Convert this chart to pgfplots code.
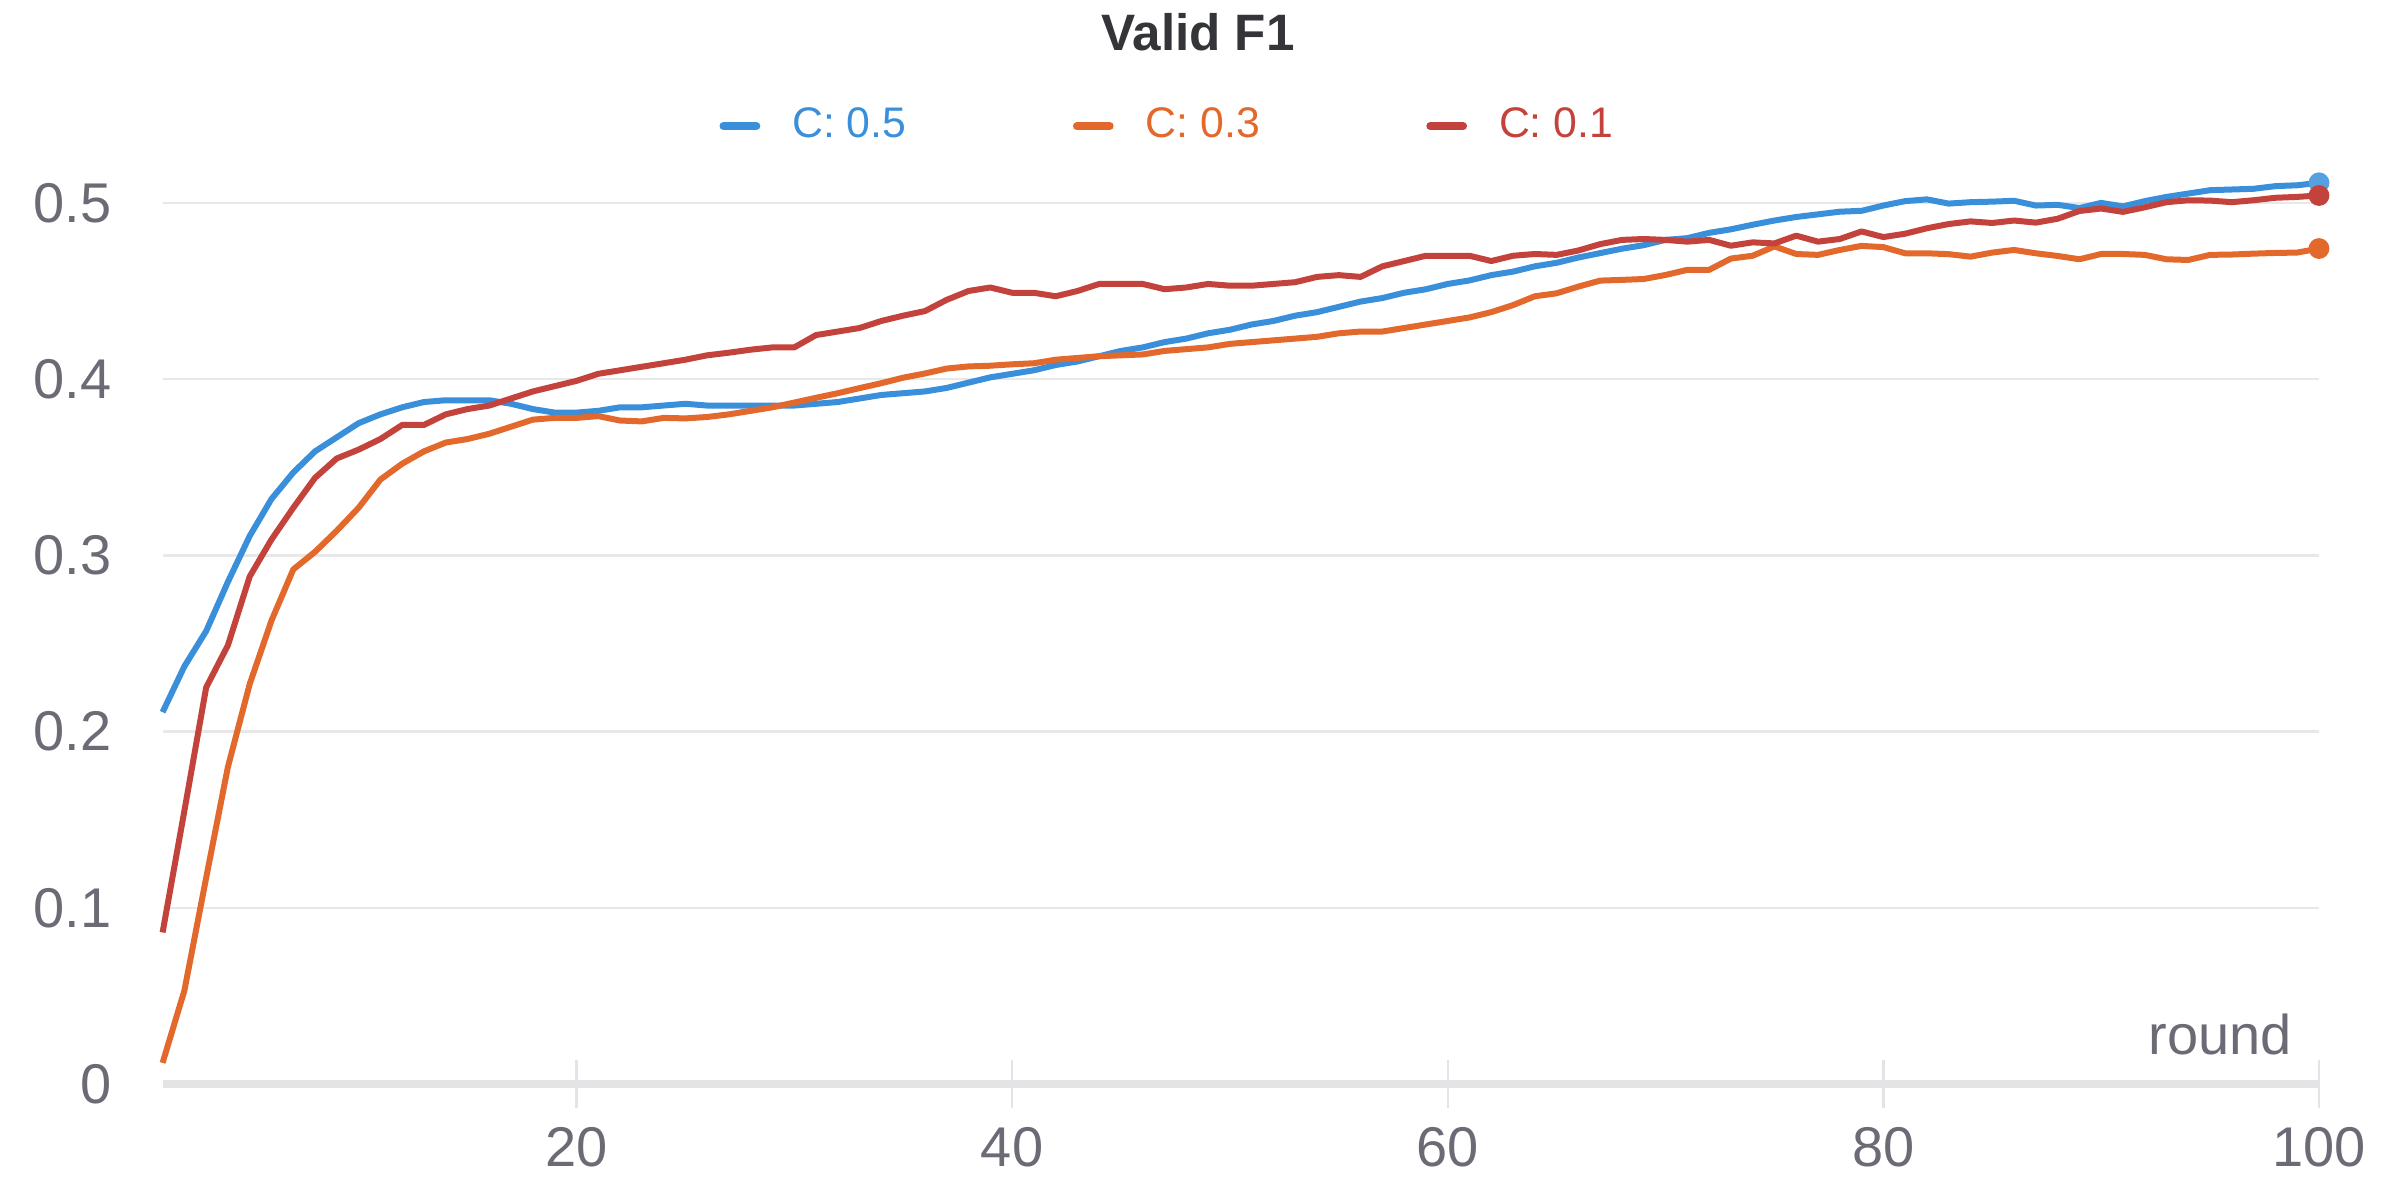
\documentclass[border=0pt]{standalone}
\usepackage{fontspec}
\setmainfont{Liberation Sans}
\usepackage{pgfplots}
\usepackage{pgfplotstable}
\pgfplotsset{compat=1.18}

\definecolor{cblue}{HTML}{3A8FDB}
\definecolor{corange}{HTML}{E2692B}
\definecolor{cred}{HTML}{C3433C}
\definecolor{gridc}{HTML}{E8E8E8}
\definecolor{axisc}{HTML}{E4E4E6}
\definecolor{tickc}{HTML}{6B6B76}
\definecolor{titlec}{HTML}{333538}

% r = round, b = C:0.5, o = C:0.3, c = C:0.1
\pgfplotstableread{
r   b      o      c
1   0.211  0.012  0.086
2   0.237  0.053  0.155
3   0.257  0.117  0.225
4   0.285  0.180  0.249
5   0.311  0.227  0.288
6   0.332  0.263  0.309
7   0.347  0.292  0.327
8   0.359  0.302  0.344
9   0.367  0.314  0.355
10  0.375  0.327  0.360
11  0.380  0.343  0.366
12  0.384  0.352  0.374
13  0.387  0.359  0.374
14  0.388  0.364  0.380
15  0.388  0.366  0.383
16  0.388  0.369  0.385
17  0.386  0.373  0.389
18  0.383  0.377  0.393
19  0.381  0.378  0.396
20  0.381  0.378  0.399
21  0.382  0.379  0.403
22  0.384  0.3765 0.405
23  0.384  0.376  0.407
24  0.385  0.378  0.409
25  0.386  0.3777 0.411
26  0.385  0.3785 0.4135
27  0.385  0.380  0.415
28  0.385  0.382  0.4167
29  0.385  0.384  0.418
30  0.385  0.3867 0.418
31  0.386  0.3894 0.425
32  0.387  0.392  0.427
33  0.389  0.3949 0.429
34  0.391  0.3977 0.433
35  0.392  0.4008 0.436
36  0.393  0.4032 0.4386
37  0.395  0.406  0.445
38  0.398  0.4072 0.450
39  0.401  0.4076 0.452
40  0.403  0.4084 0.449
41  0.405  0.409  0.449
42  0.408  0.411  0.447
43  0.410  0.412  0.450
44  0.413  0.413  0.454
45  0.416  0.4135 0.454
46  0.418  0.414  0.454
47  0.421  0.416  0.451
48  0.423  0.417  0.452
49  0.426  0.418  0.454
50  0.428  0.420  0.453
51  0.431  0.421  0.453
52  0.433  0.422  0.454
53  0.436  0.423  0.455
54  0.438  0.424  0.458
55  0.441  0.426  0.459
56  0.444  0.427  0.458
57  0.446  0.427  0.464
58  0.449  0.429  0.467
59  0.451  0.431  0.470
60  0.454  0.433  0.470
61  0.456  0.435  0.470
62  0.459  0.438  0.467
63  0.461  0.442  0.470
64  0.464  0.447  0.471
65  0.466  0.4487 0.4705
66  0.469  0.4525 0.473
67  0.4715 0.4559 0.4766
68  0.474  0.4563 0.479
69  0.476  0.4568 0.4795
70  0.479  0.4591 0.479
71  0.480  0.462  0.478
72  0.483  0.462  0.479
73  0.485  0.4684 0.4757
74  0.4876 0.470  0.4776
75  0.490  0.4753 0.477
76  0.492  0.471  0.4814
77  0.4935 0.4705 0.478
78  0.495  0.4733 0.4795
79  0.4955 0.4756 0.4838
80  0.4985 0.4749 0.4806
81  0.501  0.4714 0.4825
82  0.502  0.4714 0.4856
83  0.4996 0.4709 0.488
84  0.5004 0.4695 0.4895
85  0.5007 0.4718 0.4886
86  0.5012 0.4733 0.490
87  0.4985 0.4714 0.4888
88  0.4989 0.4699 0.491
89  0.4971 0.468  0.4954
90  0.500  0.471  0.4968
91  0.498  0.471  0.4949
92  0.501  0.4705 0.4975
93  0.5034 0.468  0.5004
94  0.5053 0.4676 0.5015
95  0.5072 0.4705 0.5013
96  0.5076 0.4707 0.5004
97  0.508  0.4712 0.5015
98  0.5095 0.4716 0.5029
99  0.510  0.4718 0.5034
100 0.5114 0.4741 0.5042
}\f

\begin{document}
\begin{tikzpicture}
\useasboundingbox (0,0) rectangle (600pt,300pt);
\node[anchor=base, font=\fontsize{12.8}{15}\selectfont\bfseries, text=titlec]
  at (299.5pt,287.4pt) {Valid F1};
\begin{axis}[
  at={(40.65pt,29pt)}, anchor=south west,
  scale only axis, width=539.1pt, height=233.5pt,
  xmin=1, xmax=100, ymin=0, ymax=0.53,
  clip=false,
  axis x line*=bottom, axis y line*=left,
  y axis line style={draw=none},
  x axis line style={draw=axisc, line width=2pt, -},
  xtick={20,40,60,80,100},
  ytick={0,0.1,0.2,0.3,0.4,0.5},
  ymajorgrids,
  grid style={draw=gridc, line width=0.6pt},
  ytick style={draw=none},
  xtick style={draw=axisc, line width=0.6pt},
  tick align=center, major tick length=12pt,
  /pgf/number format/assume math mode=true,
  ticklabel style={font=\fontsize{14}{16}\selectfont, text=tickc, inner sep=0pt},
  yticklabel style={anchor=east, xshift=-6.6pt,
    /pgf/number format/fixed, /pgf/number format/precision=1},
  xticklabel style={anchor=north, yshift=-4.6pt},
  legend style={at={(0.4655,1.0257)}, anchor=center, draw=none, fill=none,
    font=\fontsize{10.7}{13}\selectfont, inner sep=0pt,
    nodes={inner sep=0pt},
    /tikz/every odd column/.append style={column sep=8pt},
    /tikz/every even column/.append style={column sep=41.6pt}},
  legend columns=3,
  legend cell align=left,
  legend image code/.code={\draw[#1, line width=2pt, line cap=round] (0pt,0pt) -- (8.2pt,0pt);},
]
\addplot[cblue, line width=1.5pt, line join=round] table[x=r, y=b] {\f};
\addlegendentry{\textcolor{cblue}{C: 0.5}}
\addplot[corange, line width=1.5pt, line join=round] table[x=r, y=o] {\f};
\addlegendentry{\textcolor{corange}{C: 0.3}}
\addplot[cred, line width=1.5pt, line join=round] table[x=r, y=c] {\f};
\addlegendentry{\textcolor{cred}{C: 0.1}}

\addplot[forget plot, only marks, mark=*, mark size=2.4pt, cblue!85!white] coordinates {(100,0.5114)};
\addplot[forget plot, only marks, mark=*, mark size=2.4pt, corange] coordinates {(100,0.4741)};
\addplot[forget plot, only marks, mark=*, mark size=2.4pt, cred] coordinates {(100,0.5042)};

\node[anchor=base east, font=\fontsize{14}{16}\selectfont, text=tickc]
  at (axis cs:99.4,0.0165) {round};
\end{axis}
\end{tikzpicture}
\end{document}
